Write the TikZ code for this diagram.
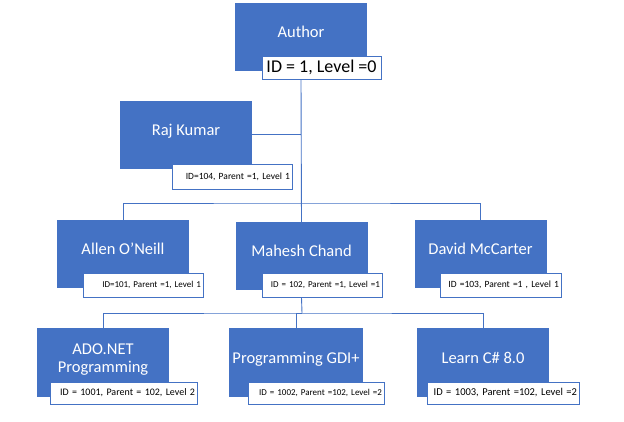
\documentclass[tikz,border=0pt]{standalone}
\usepackage{fontspec}
\setmainfont{Carlito}
\definecolor{boxblue}{HTML}{4472C4}
\begin{document}
\begin{tikzpicture}[x=1pt, y=-1pt,
  namebox/.style={rectangle, fill=boxblue, text=white, minimum width=132pt, minimum height=68pt, align=center, text height=11pt, text depth=9.5pt, font=\fontsize{16.5}{17.5}\selectfont},
  idbox/.style={rectangle, draw=boxblue, line width=0.6pt, fill=white, text width=#1, align=right, minimum height=24pt, inner xsep=2pt, inner ysep=0pt, font=\fontsize{9}{11}\selectfont},
  topidbox/.style={rectangle, draw=boxblue, line width=0.6pt, fill=white, minimum width=119pt, minimum height=23pt, inner sep=0pt, font=\fontsize{18}{20}\selectfont},
  link/.style={draw=boxblue, line width=0.9pt}]
  \useasboundingbox (0,0) rectangle (624,421);
  % Nodes
  \node (author) [namebox] at (301,36.5) {Author};
  \node (authorid) [topidbox] at (321.5,67.5) {ID = 1, Level =0};
  \node (raj) [namebox] at (186,134.5) {Raj Kumar};
  \node (rajid) [idbox=116pt, minimum height=25pt, font=\fontsize{9.5}{11}\selectfont] at (232,176.5) {ID=104, Parent =1, Level 1};
  \node (allen) [namebox] at (123,254) {Allen O’Neill};
  \node (allenid) [idbox=116pt] at (143,285) {ID=101, Parent =1, Level 1};
  \node (mahesh) [namebox] at (301.5,256) {Mahesh Chand};
  \node (maheshid) [idbox=116pt] at (322,285) {ID = 102, Parent =1, Level =1};
  \node (david) [namebox] at (480.5,254) {David McCarter};
  \node (davidid) [idbox=117pt, font=\fontsize{9.5}{11}\selectfont] at (500.5,285) {ID =103, Parent =1 , Level 1};
  \node (ado) [namebox, minimum height=69pt, text height=28.5pt] at (103,362.5) {ADO.NET\\Programming};
  \node (adoid) [idbox=143pt, minimum height=22pt, font=\fontsize{10}{12}\selectfont] at (123.5,393) {ID = 1001, Parent = 102, Level 2};
  \node (gdi) [namebox, minimum height=69pt] at (296,362.5) {Programming GDI+};
  \node (gdiid) [idbox=132pt, minimum height=22pt] at (316,393) {ID = 1002, Parent =102, Level =2};
  \node (learn) [namebox, minimum height=69pt] at (483,362.5) {Learn C\# 8.0};
  \node (learnid) [idbox=148pt, minimum height=22pt, font=\fontsize{10.5}{12}\selectfont] at (503,393) {ID = 1003, Parent =102, Level =2};
  \coordinate (bar1) at (302,203);
  \coordinate (bar2) at (302,313);
  % Lines
  \draw[link] (authorid.south -| author.south) -- (mahesh.north);
  \draw[link] (raj.east) -- (raj.east -| author.south);
  \draw[link] (allen.north) |- (bar1) -| (david.north);
  \draw[link] (maheshid.south -| mahesh.south) -- (bar2);
  \draw[link] (ado.north) |- (bar2) -| (learn.north);
  \draw[link] (bar2) -| (gdi.north);
\end{tikzpicture}
\end{document}
